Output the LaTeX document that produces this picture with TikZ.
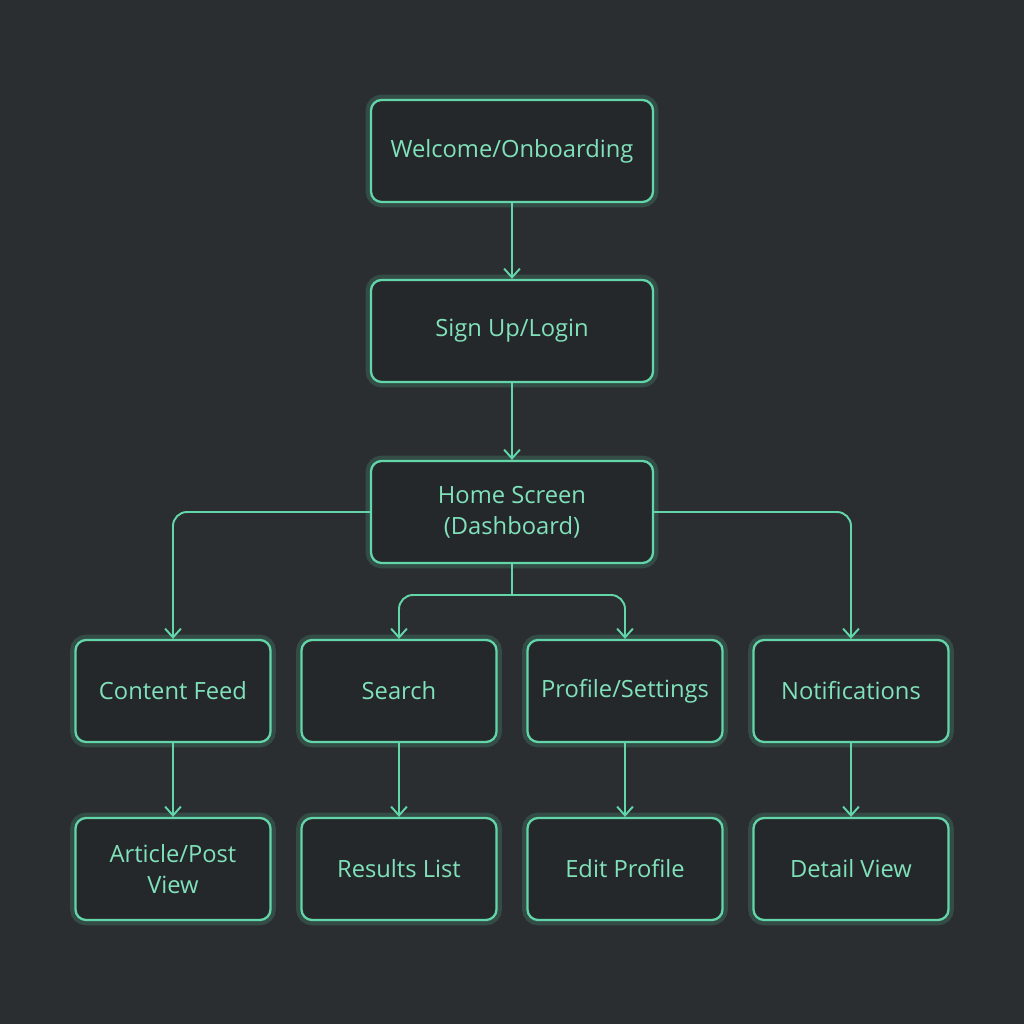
\documentclass[tikz,border=0pt]{standalone}
\usepackage{fontspec}
\setmainfont{Open Sans}
\usetikzlibrary{positioning,arrows.meta}
\definecolor{bgcol}{HTML}{2B2E31}
\definecolor{boxfill}{HTML}{25282B}
\definecolor{mint}{HTML}{62D6A8}
\definecolor{minttext}{HTML}{80E2BA}
\begin{document}
\begin{tikzpicture}[
        screen/.style={rectangle, rounded corners=6pt, draw=mint, line width=1.3pt,
          fill=boxfill, text=minttext, align=center, font=\fontsize{13.5}{17.5}\selectfont,
          preaction={draw=mint, line width=6pt, draw opacity=0.18}},
        wide/.style={screen, minimum width=5.64cm, minimum height=2.04cm},
        leaf/.style={screen, minimum width=3.9cm, minimum height=2.04cm},
        link/.style={-{Straight Barb[length=5pt,width=9pt]}, draw=mint, line width=1.1pt, rounded corners=8pt}
      ]
      \fill[bgcol] (0,0) rectangle (20.48,20.48);

      \node[wide] (welcome) at (10.24,17.46) {Welcome/Onboarding};
      \node[wide] (signup) at (10.24,13.86) {Sign Up/Login};
      \node[wide] (home) at (10.24,10.24) {Home Screen\\(Dashboard)};

      \node[leaf] (feed) at (3.46,6.66) {Content Feed};
      \node[leaf] (search) at (7.98,6.66) {Search};
      \node[leaf] (profile) at (12.50,6.66) {Profile/Settings};
      \node[leaf] (notif) at (17.02,6.66) {Notifications};

      \node[leaf] (article) at (3.46,3.10) {Article/Post\\View};
      \node[leaf] (results) at (7.98,3.10) {Results List};
      \node[leaf] (edit) at (12.50,3.10) {Edit Profile};
      \node[leaf] (detail) at (17.02,3.10) {Detail View};

      \coordinate (split) at (10.24,8.58);

      \draw[link] (welcome) -- (signup);
      \draw[link] (signup) -- (home);
      \draw[link] (home.west) -| (feed.north);
      \draw[link] (home.east) -| (notif.north);
      \draw[link, -] (home.south) -- (split);
      \draw[link] (split) -| (search.north);
      \draw[link] (split) -| (profile.north);
      \draw[link] (feed) -- (article);
      \draw[link] (search) -- (results);
      \draw[link] (profile) -- (edit);
      \draw[link] (notif) -- (detail);
    \end{tikzpicture}
\end{document}
